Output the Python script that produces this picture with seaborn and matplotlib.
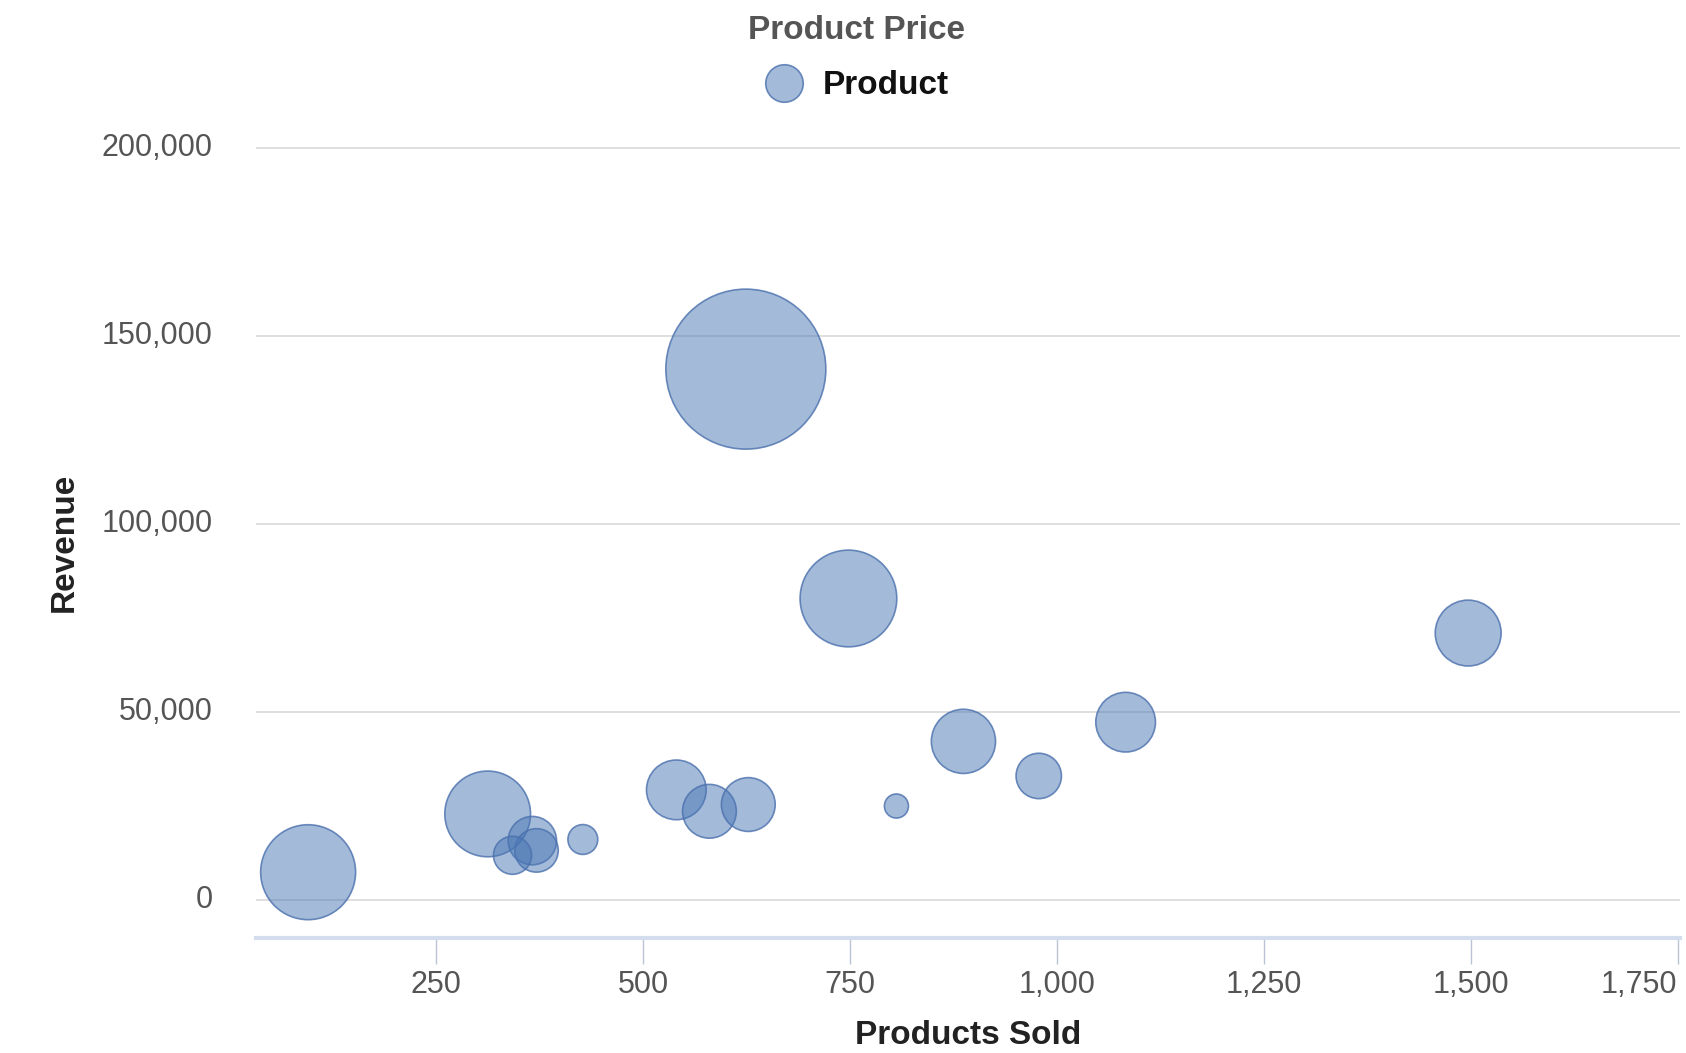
import matplotlib
matplotlib.use("Agg")
import matplotlib.pyplot as plt
from matplotlib.lines import Line2D
from matplotlib.ticker import FuncFormatter, FixedLocator
import seaborn as sns
import pandas as pd

# ---- data ----
products_sold = [624, 748, 1497, 1083, 887, 978, 806, 540, 580, 627, 312, 366, 371, 342, 427, 95]
revenue = [141300, 80300, 71100, 47400, 42300, 33100, 25100, 29400, 23700, 25500,
           23000, 15900, 13300, 12000, 16200, 7500]
product_price = [230, 84, 39, 32, 37, 18.5, 5.2, 32, 26, 26, 66, 21, 17, 13, 8, 81]
series_name = "Product"
legend_title = "Product Price"
x_label = "Products Sold"
y_label = "Revenue"
x_ticks = [250, 500, 750, 1000, 1250, 1500, 1750]
y_ticks = [0, 50000, 100000, 150000, 200000]

df = pd.DataFrame({"sold": products_sold, "revenue": revenue, "price": product_price})

sns.set_theme(style="white")
plt.rcParams["font.family"] = ["Liberation Sans", "DejaVu Sans"]

W, H = 1686, 1053
fig = plt.figure(figsize=(W / 100, H / 100), dpi=100)
left_px, right_px, top_px, bottom_px = 256, 1680, 147.3, 938
ax = fig.add_axes([left_px / W, 1 - bottom_px / H, (right_px - left_px) / W, (bottom_px - top_px) / H])

base = (0.29, 0.467, 0.706)
face = base + (0.5,)
edge = (0.29, 0.44, 0.68, 0.8)

max_price = 230
sns.scatterplot(data=df, x="sold", y="revenue", size="price",
                sizes=(0, 57.7 * max_price), size_norm=(0, max_price),
                legend=False, ax=ax, zorder=3)
coll = ax.collections[0]
coll.set_facecolor(face)
coll.set_edgecolor(edge)
coll.set_linewidth(1.2)

ax.set_xlim(32, 1753)
ax.set_ylim(-10000, 200300)

ax.xaxis.set_major_locator(FixedLocator(x_ticks))
ax.yaxis.set_major_locator(FixedLocator(y_ticks))
fmt = FuncFormatter(lambda v, p: f"{int(v):,}")
ax.xaxis.set_major_formatter(fmt)
ax.yaxis.set_major_formatter(fmt)

ax.grid(False)
for yv in y_ticks:
    ax.axhline(yv, color="#d9d9d9", linewidth=1.2, zorder=1)

for s in ["top", "right", "left"]:
    ax.spines[s].set_visible(False)
ax.spines["bottom"].set_color("#d3ddee")
ax.spines["bottom"].set_linewidth(3)

ax.tick_params(axis="x", length=19, width=1, color="#b9c3d3", direction="out",
               labelsize=22, labelcolor="#555555", pad=3.7, bottom=True)
ax.tick_params(axis="y", length=0, labelsize=22, labelcolor="#555555", pad=31, left=False)

fig.canvas.draw()
xlabels = ax.get_xticklabels()
xlabels[-1].set_horizontalalignment("right")
for lbl in ax.get_yticklabels():
    lbl.set_va("center")

ax.set_xlabel(x_label, fontsize=24, fontweight="bold", color="#222222", labelpad=14.4)
ax.set_ylabel(y_label, fontsize=24, fontweight="bold", color="#222222", labelpad=16)

handle = Line2D([], [], marker="o", linestyle="", markersize=27,
                markerfacecolor=face, markeredgecolor=edge, markeredgewidth=1.2)
leg = fig.legend(handles=[handle], labels=[series_name], title=legend_title,
                 loc="upper center", bbox_to_anchor=(0.508, 1.0), frameon=False,
                 prop={"size": 24, "weight": "bold"},
                 title_fontproperties={"size": 24, "weight": "bold"},
                 handletextpad=0.55, borderaxespad=0.36, borderpad=0.1,
                 labelspacing=0.72, handlelength=1.2)
leg.get_title().set_color("#555555")
for t in leg.get_texts():
    t.set_color("#111111")

fig.savefig("out.png", dpi=100, facecolor="white")
